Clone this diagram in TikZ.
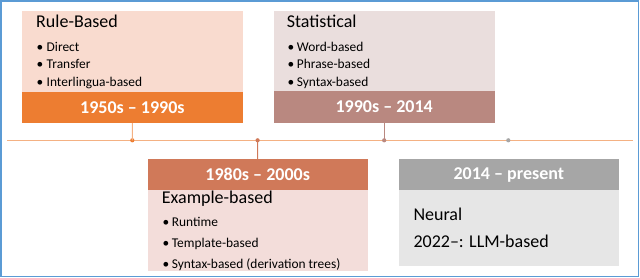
\documentclass[tikz,border=0pt]{standalone}
\usepackage{fontspec}
\setmainfont{Carlito}
\definecolor{border}{HTML}{5B9BD5}
\definecolor{tline}{HTML}{F4B183}
\definecolor{bodyA}{HTML}{F9DBCF}
\definecolor{barA}{HTML}{ED7D31}
\definecolor{bodyB}{HTML}{EADEDD}
\definecolor{barB}{HTML}{B98880}
\definecolor{bodyC}{HTML}{F3DDDA}
\definecolor{barC}{HTML}{D07959}
\definecolor{bodyD}{HTML}{E6E6E6}
\definecolor{barD}{HTML}{A6A6A6}
\begin{document}
\begin{tikzpicture}[x=1pt,y=-1pt,
  panel/.style={draw=none,inner sep=0pt,anchor=north west},
  datebar/.style={panel,text=white,font=\fontsize{18}{21}\selectfont\bfseries},
  ttl/.style={anchor=base west,inner sep=0pt,font=\fontsize{18}{21}\selectfont},
  itm/.style={anchor=base west,inner sep=0pt,font=\fontsize{13.4}{16}\selectfont},
  bul/.style={anchor=base west,inner sep=0pt,font=\fontsize{13.4}{16}\selectfont},
  tdot/.style={circle,inner sep=0pt,minimum size=4.2pt},
  conn/.style={line width=1pt}]
\useasboundingbox (0,0) rectangle (640,278);
\draw[border,line width=1.6pt] (1,1) rectangle (638.5,276.5);

% timeline
\coordinate (tl0) at (7.3,140.3);
\coordinate (tl1) at (632.7,140.3);
\draw[tline,line width=1.1pt] (tl0) -- (tl1);

% Box 1: Rule-Based
\node[panel,fill=bodyA,minimum width=221pt,minimum height=80.7pt] (b1) at (21.7,11) {};
\node[datebar,fill=barA,minimum width=221pt,minimum height=31pt] (d1) at (21.7,91.7) {1950s -- 1990s};
\node[ttl] (t1) at (36,28) {Rule-Based};
\node[bul] (b1a) at (36.5,51.7) {\textbullet};
\node[itm] (i1a) at (46.5,51.7) {Direct};
\node[bul] (b1b) at (36.5,69) {\textbullet};
\node[itm] (i1b) at (46.5,69) {Transfer};
\node[bul] (b1c) at (36.5,86.3) {\textbullet};
\node[itm] (i1c) at (46.5,86.3) {Interlingua-based};

% Box 2: Statistical
\node[panel,fill=bodyB,minimum width=221pt,minimum height=79.7pt] (b2) at (273.5,11) {};
\node[datebar,fill=barB,minimum width=221pt,minimum height=31.6pt] (d2) at (273.5,90.7) {1990s -- 2014};
\node[ttl] (t2) at (286.7,27.7) {Statistical};
\node[bul] (b2a) at (287.5,51.7) {\textbullet};
\node[itm] (i2a) at (296.7,51.7) {Word-based};
\node[bul] (b2b) at (287.5,69) {\textbullet};
\node[itm] (i2b) at (296.7,69) {Phrase-based};
\node[bul] (b2c) at (287.5,86.3) {\textbullet};
\node[itm] (i2c) at (296.7,86.3) {Syntax-based};

% Box 3: Example-based
\node[datebar,fill=barC,minimum width=220.4pt,minimum height=30.3pt] (d3) at (147.3,159.2) {1980s -- 2000s};
\node[panel,fill=bodyC,minimum width=220.4pt,minimum height=81.2pt] (b3) at (147.3,189.5) {};
\node[ttl] (t3) at (161.7,203.3) {Example-based};
\node[bul] (b3a) at (162.5,226.7) {\textbullet};
\node[itm] (i3a) at (171.7,226.7) {Runtime};
\node[bul] (b3b) at (162.5,247.3) {\textbullet};
\node[itm] (i3b) at (171.7,247.3) {Template-based};
\node[bul] (b3c) at (162.5,268) {\textbullet};
\node[itm] (i3c) at (171.7,268) {Syntax-based (derivation trees)};

% Box 4: Neural
\node[datebar,fill=barD,minimum width=220.7pt,minimum height=30.3pt] (d4) at (398.3,159.2) {2014 -- present};
\node[panel,fill=bodyD,minimum width=220.7pt,minimum height=76.5pt] (b4) at (398.3,189.5) {};
\node[ttl] (t4) at (413.3,220) {Neural};
\node[ttl] (t4b) at (413.3,247.3) {2022--: LLM-based};

% timeline dots and connectors
\node[tdot,fill=barA] (p1) at (132.3,140.3) {};
\node[tdot,fill=barC] (p3) at (257.6,140.3) {};
\node[tdot,fill=barB] (p2) at (384.2,140.3) {};
\node[tdot,fill=barD] (p4) at (508.3,140.3) {};
\draw[conn,draw=tline] (d1.south) -- (p1.center);
\draw[conn,draw=barC] (d3.north) -- (p3.center);
\draw[conn,draw=barB] (d2.south) -- (p2.center);
\end{tikzpicture}
\end{document}
